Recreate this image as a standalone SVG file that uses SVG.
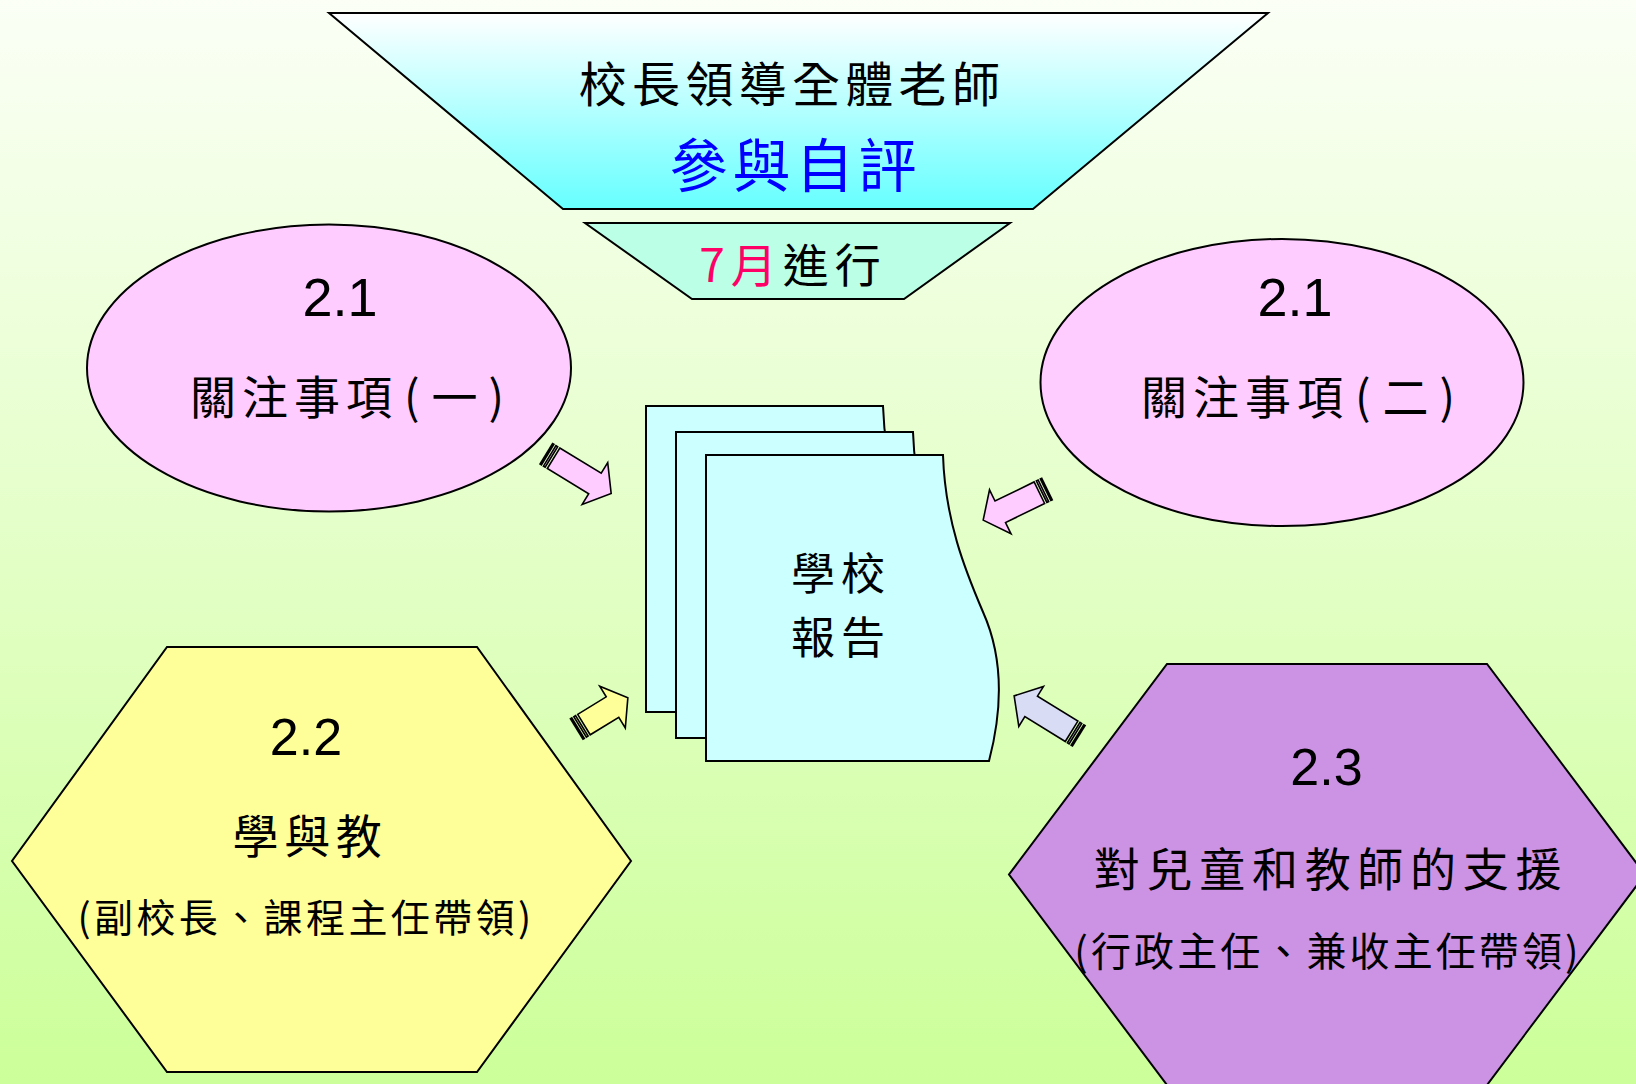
<svg xmlns="http://www.w3.org/2000/svg" width="1636" height="1084" viewBox="0 0 1636 1084">
<defs>
<linearGradient id="bg" x1="0" y1="0" x2="0" y2="1">
<stop offset="0" stop-color="#fbfff6"/>
<stop offset="1" stop-color="#ccff99"/>
</linearGradient>
<linearGradient id="cyan" x1="0" y1="0" x2="0" y2="1">
<stop offset="0" stop-color="#ffffff"/>
<stop offset="1" stop-color="#66ffff"/>
</linearGradient>
<style>
.ln{stroke:#000;stroke-width:2;stroke-linejoin:miter}
.cjk{font-family:"Noto Sans CJK TC","Noto Sans CJK SC",sans-serif;text-anchor:middle;fill:#000}
.num{font-family:"Liberation Sans",Arial,sans-serif;text-anchor:middle;fill:#000}
.arr{stroke:#000;stroke-width:1.6;stroke-linejoin:miter}
.pink{fill:#ffccff}
</style>
</defs>
<rect x="0" y="0" width="1636" height="1084" fill="url(#bg)"/>

<g id="top-funnel">
<polygon class="ln" points="329,13 1268,13 1033,209 563,209" fill="url(#cyan)"/>
<text class="cjk" x="792" y="102" font-size="48" letter-spacing="5.3">校長領導全體老師</text>
<text class="cjk" x="795.5" y="187" font-size="58" letter-spacing="5" style="fill:#0000ff">參與自評</text>
</g>

<g id="july">
<polygon class="ln" points="585,223 1010,223 904,299 692,299" fill="#bbffe6"/>
<text class="cjk" x="793" y="282" font-size="46" letter-spacing="6"><tspan style="fill:#ff0066">7月</tspan>進行</text>
</g>

<g id="focus-1">
<ellipse class="ln" cx="329" cy="368" rx="242" ry="143.5" fill="#ffccff"/>
<text class="num" x="340" y="316" font-size="54">2.1</text>
<text class="cjk" x="350" y="414" font-size="46" letter-spacing="6">關注事項<tspan dx="6">(</tspan><tspan dx="6">一</tspan><tspan dx="5">)</tspan></text>
</g>

<g id="focus-2">
<ellipse class="ln" cx="1282" cy="382.5" rx="241.5" ry="143.5" fill="#ffccff"/>
<text class="num" x="1295" y="316" font-size="54">2.1</text>
<text class="cjk" x="1301" y="414" font-size="46" letter-spacing="6">關注事項<tspan dx="6">(</tspan><tspan dx="6">二</tspan><tspan dx="5">)</tspan></text>
</g>

<g id="school-report">
<path class="ln" fill="#ccffff" d="M646,406 L883,406 C885,471 905,521 923,563 C940,601 945,651 929,712 L646,712 Z"/>
<path class="ln" fill="#ccffff" d="M676,432 L913,432 C915,497 935,547 953,589 C970,627 975,677 959,738 L676,738 Z"/>
<path class="ln" fill="#ccffff" d="M706,455 L943,455 C945,520 965,570 983,612 C1000,650 1005,700 989,761 L706,761 Z"/>
<text class="cjk" x="841" y="590" font-size="44" letter-spacing="6">學校</text>
<text class="cjk" x="841" y="654" font-size="44" letter-spacing="6">報告</text>
</g>

<g id="learning-teaching">
<polygon class="ln" points="167,647 477,647 631,861 477,1072 167,1072 12,861" fill="#ffff99"/>
<text class="num" x="306" y="755" font-size="52">2.2</text>
<text class="cjk" x="310" y="853" font-size="46" letter-spacing="5.7">學與教</text>
<text class="cjk" x="306" y="932" font-size="39" letter-spacing="3.4">(副校長、課程主任帶領)</text>
</g>

<g id="support">
<polygon class="ln" points="1167,664 1487,664 1645,874.5 1487,1085 1167,1085 1009,874.5" fill="#cc92e3"/>
<text class="num" x="1326.5" y="785" font-size="52">2.3</text>
<text class="cjk" x="1331" y="886" font-size="46" letter-spacing="6.7">對兒童和教師的支援</text>
<text class="cjk" x="1328" y="966" font-size="40" letter-spacing="3.1">(行政主任、兼收主任帶領)</text>
</g>

<g id="connectors">
<g transform="translate(546.3,453.8) rotate(31.4)" class="pink">
<rect class="arr" x="0" y="-12" width="1.6" height="24"/>
<rect class="arr" x="4" y="-12" width="2" height="24"/>
<polygon class="arr" points="8.5,-12 57,-12 57,-24.5 76,0 57,24.5 57,12 8.5,12"/>
</g>
<g transform="translate(1047,489) rotate(154)" class="pink">
<rect class="arr" x="0" y="-12" width="1.6" height="24"/>
<rect class="arr" x="4" y="-12" width="2" height="24"/>
<polygon class="arr" points="8.5,-12 52,-12 52,-24.5 71,0 52,24.5 52,12 8.5,12"/>
</g>
<g transform="translate(576.7,729) rotate(-31.5)" fill="#ffff99">
<rect class="arr" x="0" y="-12" width="1.6" height="24"/>
<rect class="arr" x="4" y="-12" width="2" height="24"/>
<polygon class="arr" points="8.5,-12 42,-12 42,-24.5 60,0 42,24.5 42,12 8.5,12"/>
</g>
<g transform="translate(1078.8,735.8) rotate(211.7)" fill="#d8dcf4">
<rect class="arr" x="0" y="-12" width="1.6" height="24"/>
<rect class="arr" x="4" y="-12" width="2" height="24"/>
<polygon class="arr" points="8.5,-12 56,-12 56,-23.5 76,0 56,23.5 56,12 8.5,12"/>
</g>
</g>
</svg>
